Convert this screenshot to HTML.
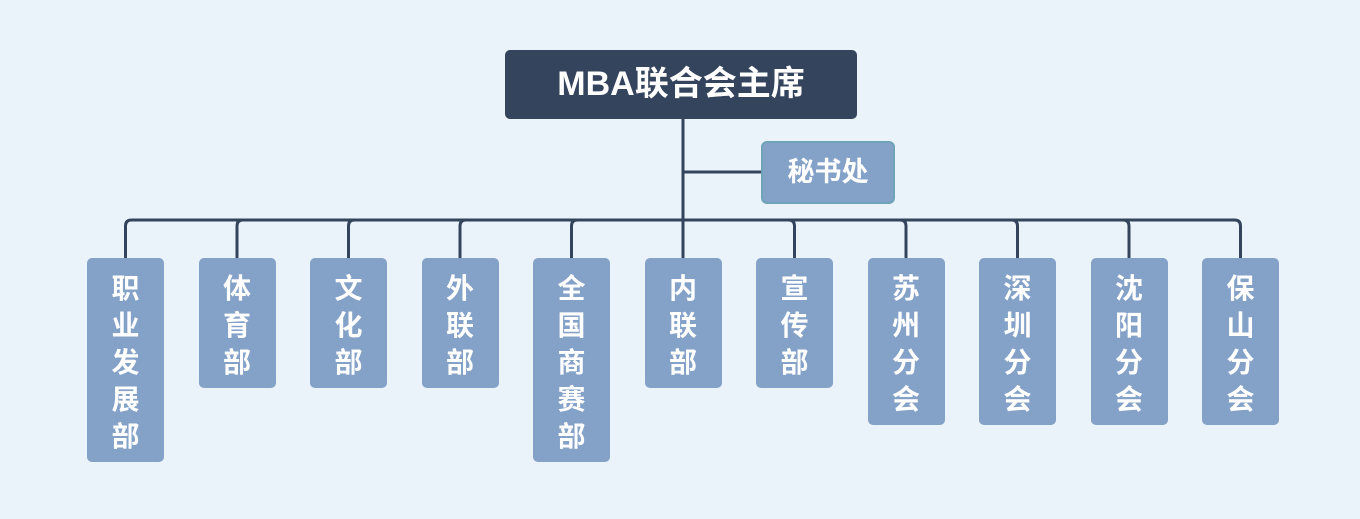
<!DOCTYPE html>
<html><head><meta charset="utf-8"><style>
body{margin:0;width:1360px;height:519px;background:#ebf3fa;position:relative;overflow:hidden;font-family:"Liberation Sans","Noto Sans CJK SC",sans-serif;}
.b{position:absolute;background:#84a1c8;color:#fff;font-weight:bold;font-size:28px;border-radius:5px;text-align:center;line-height:37px;box-sizing:border-box;padding-top:12px;width:77px;top:258px}
</style></head><body>
<svg width="1360" height="519" style="position:absolute;left:0;top:0">
<g stroke="#34445c" stroke-width="3" fill="none">
<line x1="683" y1="119" x2="683" y2="258"/>
<line x1="683" y1="172" x2="761" y2="172"/>
<path d="M125.5 258 V226 Q125.5 220 131.5 220 H1234.5 Q1240.5 220 1240.5 226 V258"/>
<path d="M237 258V226Q237 220 243 220M348.5 258V226Q348.5 220 354.5 220M460 258V226Q460 220 466 220M571.5 258V226Q571.5 220 577.5 220"/>
<path d="M794.5 258V226Q794.5 220 788.5 220M906 258V226Q906 220 900 220M1017.5 258V226Q1017.5 220 1011.5 220M1129 258V226Q1129 220 1123 220"/>
</g></svg>
<div style="position:absolute;left:505px;top:50px;width:352px;height:69px;background:#34445c;border-radius:5px;color:#fff;font-weight:bold;font-size:34px;line-height:69px;text-align:center">MBA联合会主席</div>
<div style="position:absolute;left:761px;top:141px;width:134px;height:63px;background:#84a1c8;border:2px solid #6fa3b8;box-sizing:border-box;border-radius:6px;color:#fff;font-weight:bold;font-size:27px;line-height:59px;text-align:center">秘书处</div>
<div class="b" style="left:87px;height:204px">职<br>业<br>发<br>展<br>部</div>
<div class="b" style="left:198.5px;height:130px">体<br>育<br>部</div>
<div class="b" style="left:310px;height:130px">文<br>化<br>部</div>
<div class="b" style="left:421.5px;height:130px">外<br>联<br>部</div>
<div class="b" style="left:533px;height:204px">全<br>国<br>商<br>赛<br>部</div>
<div class="b" style="left:644.5px;height:130px">内<br>联<br>部</div>
<div class="b" style="left:756px;height:130px">宣<br>传<br>部</div>
<div class="b" style="left:867.5px;height:167px">苏<br>州<br>分<br>会</div>
<div class="b" style="left:979px;height:167px">深<br>圳<br>分<br>会</div>
<div class="b" style="left:1090.5px;height:167px">沈<br>阳<br>分<br>会</div>
<div class="b" style="left:1202px;height:167px">保<br>山<br>分<br>会</div>
</body></html>
